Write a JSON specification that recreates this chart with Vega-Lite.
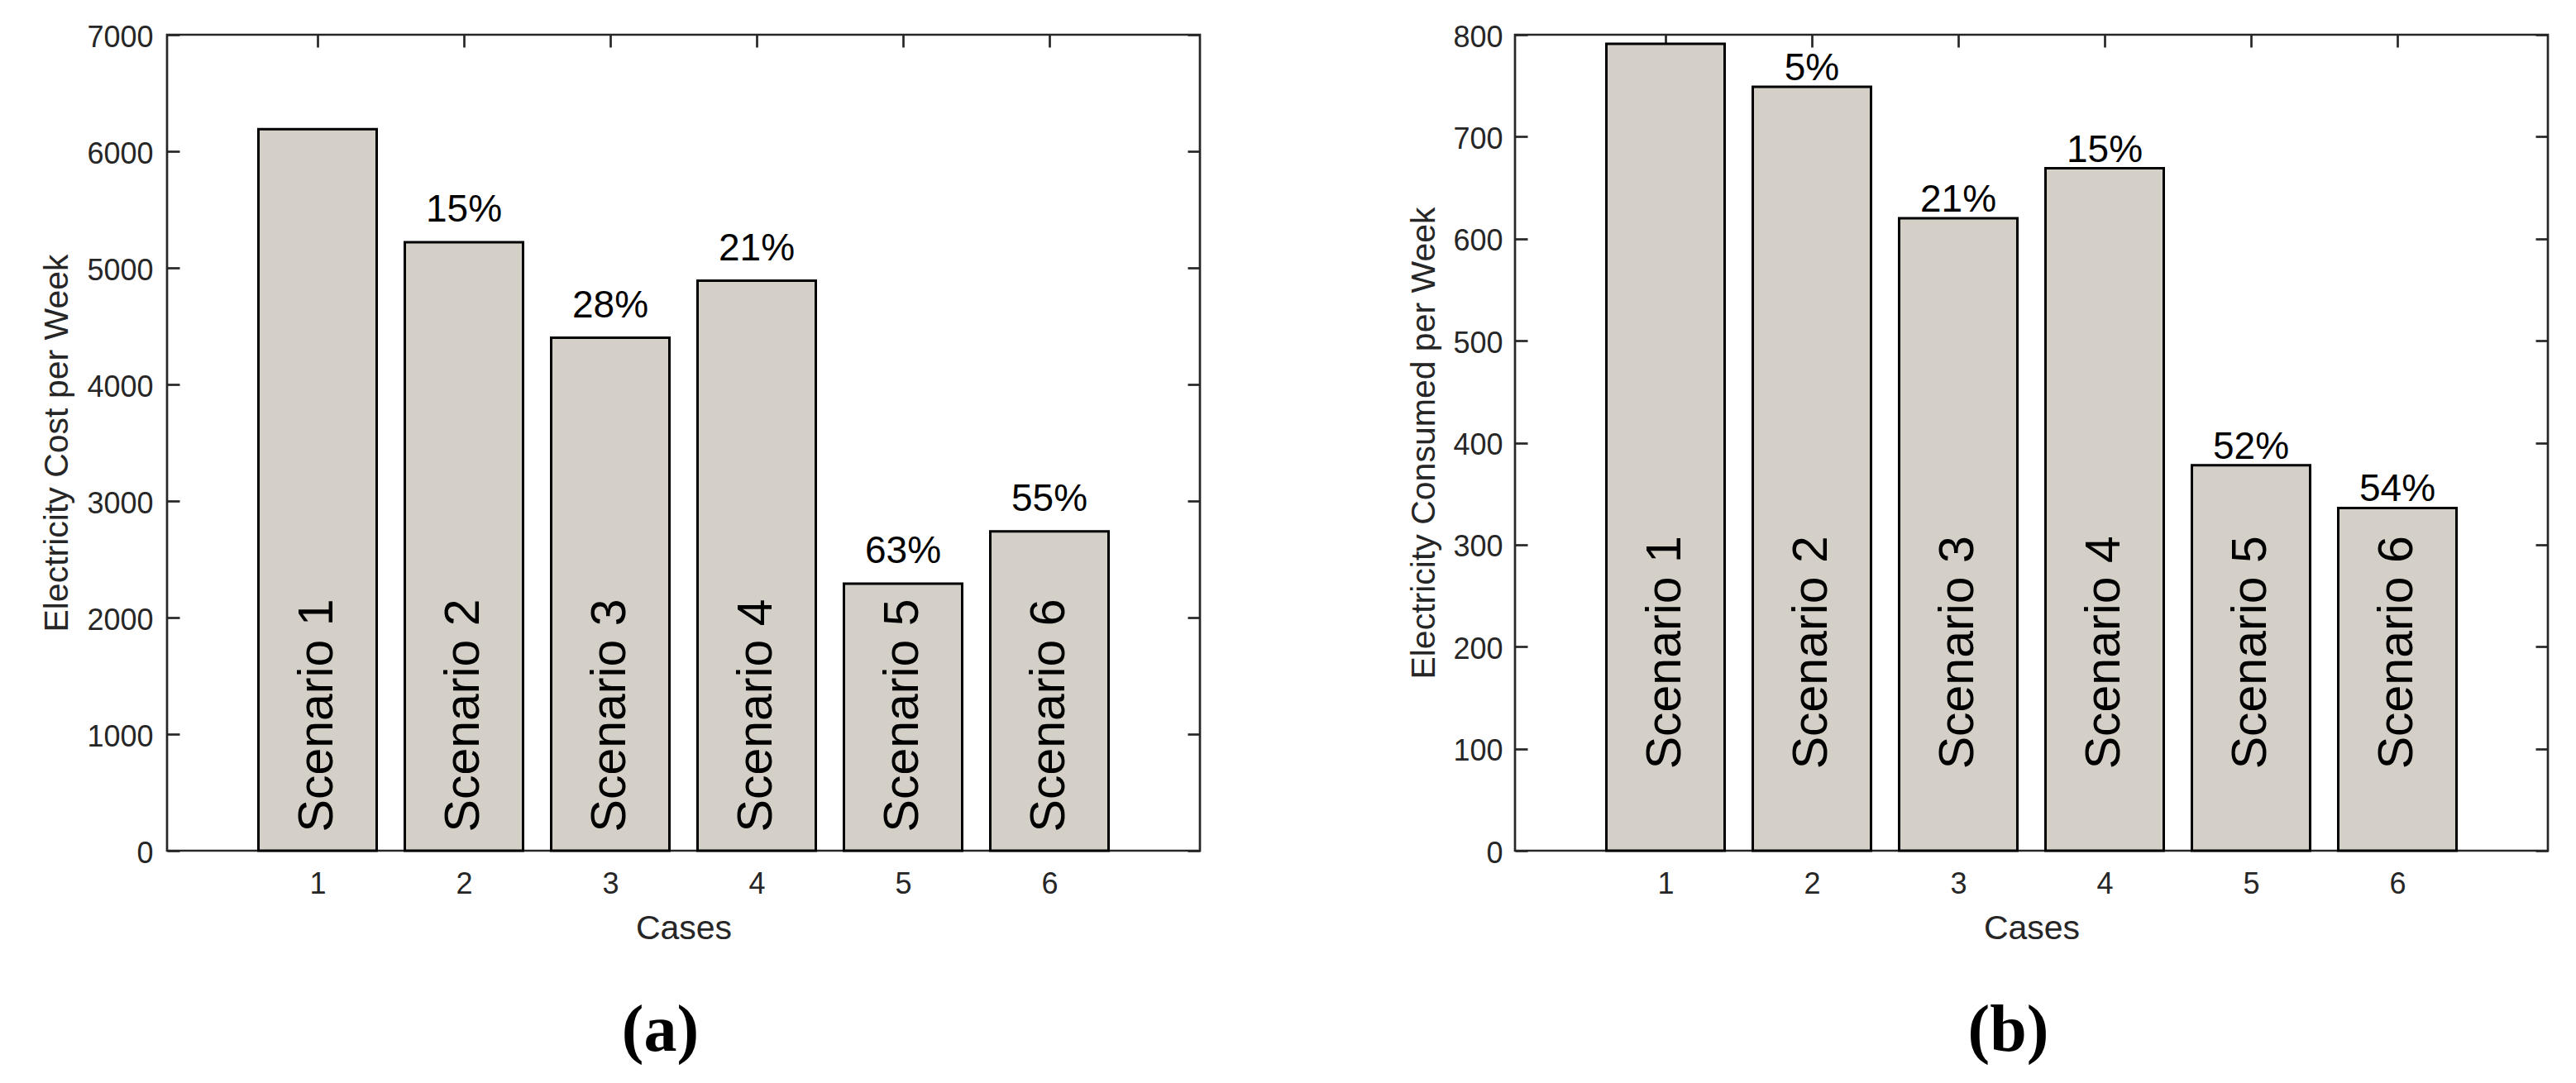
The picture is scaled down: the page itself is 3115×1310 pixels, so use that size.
{
  "$schema": "https://vega.github.io/schema/vega-lite/v6.json",
  "background": "white",
  "padding": {"left": 46, "top": 6, "right": 5, "bottom": 5},
  "bounds": "flush",
  "spacing": 381,
  "config": {
    "font": "Liberation Sans",
    "view": {"stroke": "#262626", "strokeWidth": 2.7},
    "axis": {
      "labelFont": "Liberation Sans",
      "labelFontSize": 36,
      "labelColor": "#262626",
      "titleFont": "Liberation Sans",
      "titleFontSize": 41,
      "titleFontWeight": "normal",
      "titleColor": "#262626",
      "titleBaseline": "alphabetic",
      "tickColor": "#262626",
      "tickWidth": 2.7,
      "tickSize": -15,
      "domain": false,
      "grid": false,
      "labelFlush": false,
      "labelOverlap": false,
      "labelBound": false,
      "zindex": 1
    }
  },
  "datasets": {
    "cost": [
      {"case": 1, "value": 6190, "scenario": "Scenario 1", "pct": ""},
      {"case": 2, "value": 5220, "scenario": "Scenario 2", "pct": "15%"},
      {"case": 3, "value": 4400, "scenario": "Scenario 3", "pct": "28%"},
      {"case": 4, "value": 4890, "scenario": "Scenario 4", "pct": "21%"},
      {"case": 5, "value": 2290, "scenario": "Scenario 5", "pct": "63%"},
      {"case": 6, "value": 2740, "scenario": "Scenario 6", "pct": "55%"}
    ],
    "consumed": [
      {"case": 1, "value": 791, "scenario": "Scenario 1", "pct": ""},
      {"case": 2, "value": 749, "scenario": "Scenario 2", "pct": "5%"},
      {"case": 3, "value": 620, "scenario": "Scenario 3", "pct": "21%"},
      {"case": 4, "value": 669, "scenario": "Scenario 4", "pct": "15%"},
      {"case": 5, "value": 378, "scenario": "Scenario 5", "pct": "52%"},
      {"case": 6, "value": 336, "scenario": "Scenario 6", "pct": "54%"}
    ]
  },
  "hconcat": [
    {
      "width": 1249,
      "height": 987,
      "data": {"name": "cost"},
      "title": {"text": "(a)", "orient": "bottom", "frame": "group", "anchor": "middle", "font": "Liberation Serif", "fontWeight": "bold", "fontSize": 80, "color": "black", "baseline": "alphabetic", "offset": 128, "dx": -28},
      "layer": [
        {
          "mark": {"type": "bar", "orient": "vertical", "width": 143, "fill": "#D4D0C8", "stroke": "black", "strokeWidth": 3},
          "encoding": {
            "x": {"field": "case", "type": "quantitative", "scale": {"domain": [0, 7], "nice": false, "zero": false},
                  "axis": {"title": "Cases", "values": [1, 2, 3, 4, 5, 6], "format": "d", "labelPadding": 38, "minExtent": 60, "maxExtent": 60, "titlePadding": 46}},
            "y": {"field": "value", "type": "quantitative", "scale": {"domain": [0, 7000], "nice": false},
                  "axis": {"title": "Electricity Cost per Week", "values": [0, 1000, 2000, 3000, 4000, 5000, 6000, 7000], "format": "d", "labelPadding": 32, "labelOffset": 3, "minExtent": 97, "maxExtent": 97, "titlePadding": 24}}
          }
        },
        {
          "mark": {"type": "text", "font": "Liberation Sans", "fontSize": 46, "color": "black", "align": "center", "baseline": "alphabetic", "dy": -25},
          "encoding": {
            "x": {"field": "case", "type": "quantitative", "scale": {"domain": [0, 7], "nice": false, "zero": false}, "axis": null},
            "y": {"field": "value", "type": "quantitative", "scale": {"domain": [0, 7000], "nice": false}, "axis": null},
            "text": {"field": "pct"}
          }
        },
        {
          "mark": {"type": "text", "font": "Liberation Sans", "fontSize": 59, "color": "black", "angle": 270, "align": "left", "baseline": "middle"},
          "encoding": {
            "x": {"field": "case", "type": "quantitative", "scale": {"domain": [0, 7], "nice": false, "zero": false}, "axis": null},
            "y": {"datum": 160, "type": "quantitative", "scale": {"domain": [0, 7000], "nice": false}, "axis": null},
            "text": {"field": "scenario"}
          }
        },
        {
          "mark": {"type": "point", "opacity": 0},
          "encoding": {
            "x": {"field": "case", "type": "quantitative", "scale": {"domain": [0, 7], "nice": false, "zero": false},
                  "axis": {"orient": "top", "labels": false, "title": null, "values": [1, 2, 3, 4, 5, 6], "minExtent": 0, "maxExtent": 0}},
            "y": {"field": "value", "type": "quantitative", "scale": {"domain": [0, 7000], "nice": false},
                  "axis": {"orient": "right", "labels": false, "title": null, "values": [0, 1000, 2000, 3000, 4000, 5000, 6000, 7000], "minExtent": 0, "maxExtent": 0}}
          }
        }
      ],
      "resolve": {"axis": {"x": "independent", "y": "independent"}}
    },
    {
      "width": 1249,
      "height": 987,
      "data": {"name": "consumed"},
      "title": {"text": "(b)", "orient": "bottom", "frame": "group", "anchor": "middle", "font": "Liberation Serif", "fontWeight": "bold", "fontSize": 80, "color": "black", "baseline": "alphabetic", "offset": 128, "dx": -28},
      "layer": [
        {
          "mark": {"type": "bar", "orient": "vertical", "width": 143, "fill": "#D4D0C8", "stroke": "black", "strokeWidth": 3},
          "encoding": {
            "x": {"field": "case", "type": "quantitative", "scale": {"domain": [0, 7], "nice": false, "zero": false},
                  "axis": {"title": "Cases", "values": [1, 2, 3, 4, 5, 6], "format": "d", "labelPadding": 38, "minExtent": 60, "maxExtent": 60, "titlePadding": 46}},
            "y": {"field": "value", "type": "quantitative", "scale": {"domain": [0, 800], "nice": false},
                  "axis": {"title": "Electricity Consumed per Week", "values": [0, 100, 200, 300, 400, 500, 600, 700, 800], "format": "d", "labelPadding": 30, "labelOffset": 3, "minExtent": 74, "maxExtent": 74, "titlePadding": 24}}
          }
        },
        {
          "mark": {"type": "text", "font": "Liberation Sans", "fontSize": 46, "color": "black", "align": "center", "baseline": "alphabetic", "dy": -8},
          "encoding": {
            "x": {"field": "case", "type": "quantitative", "scale": {"domain": [0, 7], "nice": false, "zero": false}, "axis": null},
            "y": {"field": "value", "type": "quantitative", "scale": {"domain": [0, 800], "nice": false}, "axis": null},
            "text": {"field": "pct"}
          }
        },
        {
          "mark": {"type": "text", "font": "Liberation Sans", "fontSize": 59, "color": "black", "angle": 270, "align": "left", "baseline": "middle"},
          "encoding": {
            "x": {"field": "case", "type": "quantitative", "scale": {"domain": [0, 7], "nice": false, "zero": false}, "axis": null},
            "y": {"datum": 80, "type": "quantitative", "scale": {"domain": [0, 800], "nice": false}, "axis": null},
            "text": {"field": "scenario"}
          }
        },
        {
          "mark": {"type": "point", "opacity": 0},
          "encoding": {
            "x": {"field": "case", "type": "quantitative", "scale": {"domain": [0, 7], "nice": false, "zero": false},
                  "axis": {"orient": "top", "labels": false, "title": null, "values": [1, 2, 3, 4, 5, 6], "minExtent": 0, "maxExtent": 0}},
            "y": {"field": "value", "type": "quantitative", "scale": {"domain": [0, 800], "nice": false},
                  "axis": {"orient": "right", "labels": false, "title": null, "values": [0, 100, 200, 300, 400, 500, 600, 700, 800], "minExtent": 0, "maxExtent": 0}}
          }
        }
      ],
      "resolve": {"axis": {"x": "independent", "y": "independent"}}
    }
  ]
}
